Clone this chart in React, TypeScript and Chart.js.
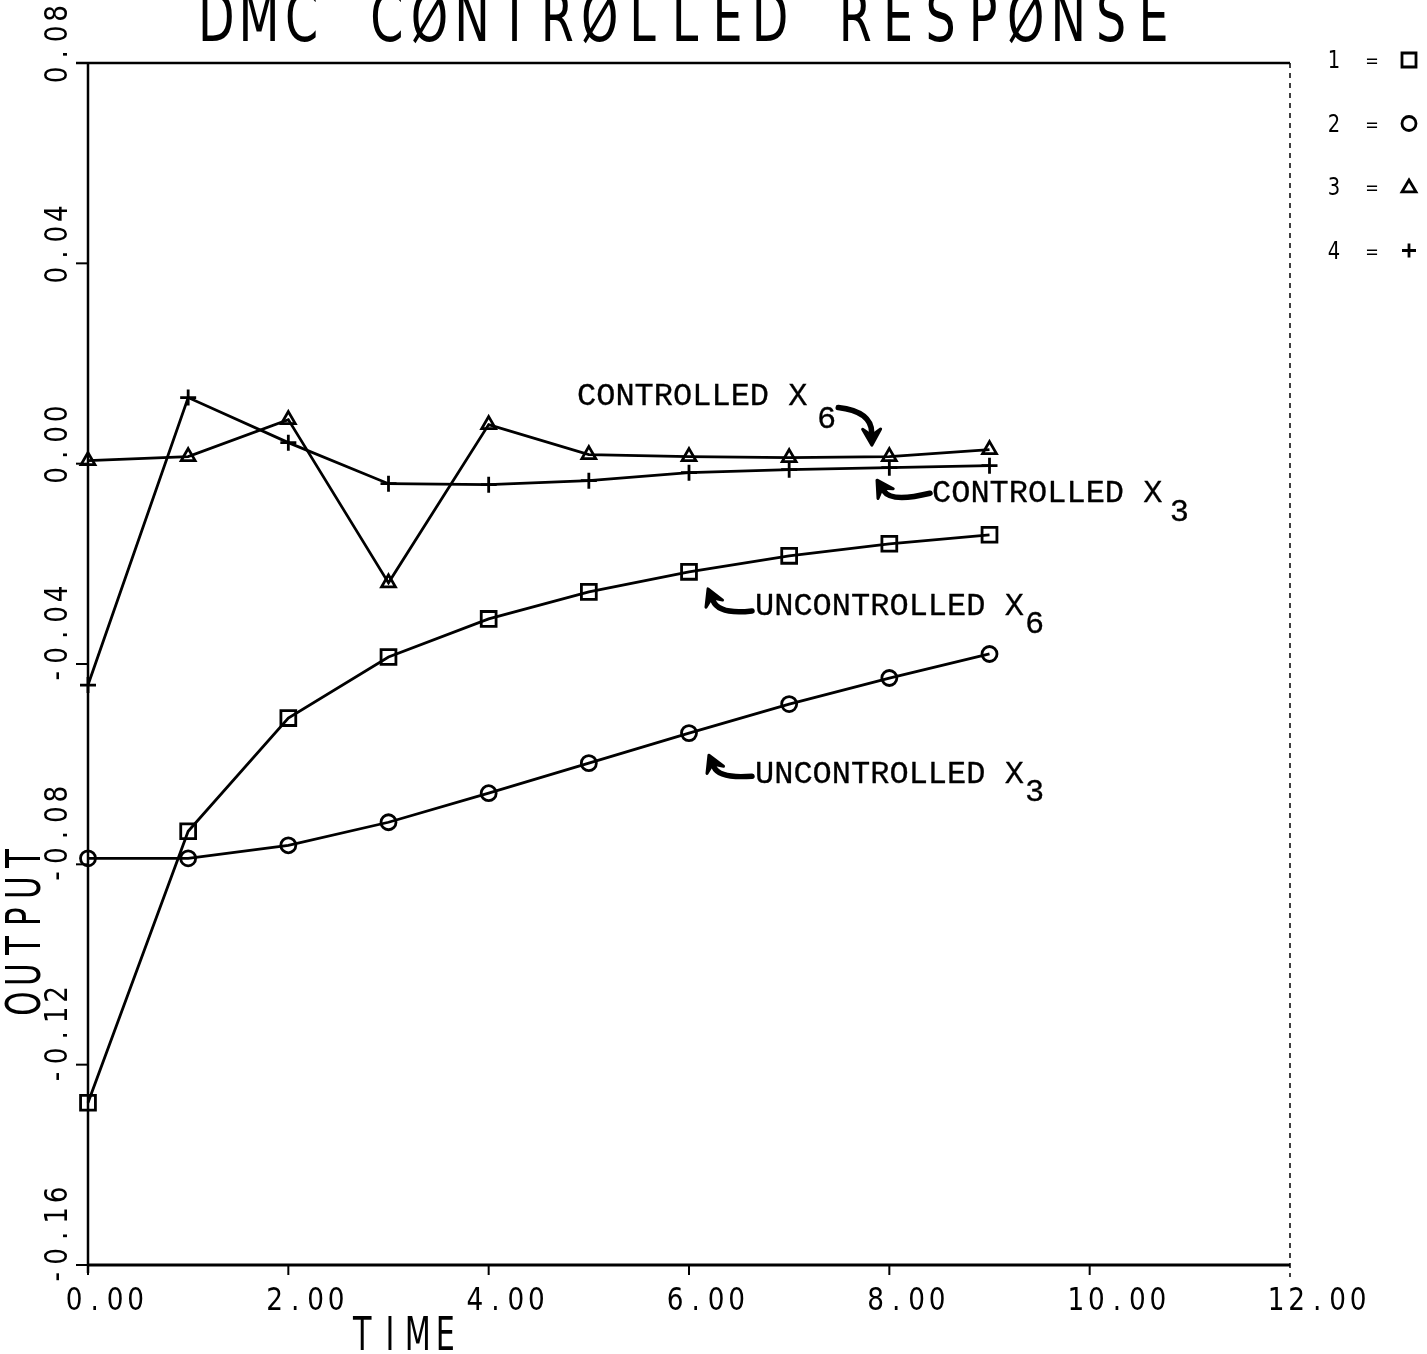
import React, { useEffect, useRef } from "react";
import { Chart, registerables } from "chart.js";

Chart.register(...registerables);

// Sample instants (time axis)
const timeSteps = [0, 1, 2, 3, 4, 5, 6, 7, 8, 9];

// 1 = square : uncontrolled X6
const uncontrolledX6 = [-0.1276, -0.0734, -0.0508, -0.0386, -0.031, -0.0256, -0.0216, -0.0184, -0.016, -0.0142];
// 2 = circle : uncontrolled X3
const uncontrolledX3 = [-0.0788, -0.0788, -0.0762, -0.0716, -0.0658, -0.0598, -0.0538, -0.048, -0.0428, -0.038];
// 3 = triangle : controlled X6
const controlledX6 = [0.0006, 0.0014, 0.0088, -0.0238, 0.0078, 0.0018, 0.0014, 0.0012, 0.0014, 0.0028];
// 4 = plus : controlled X3
const controlledX3 = [-0.0442, 0.0132, 0.0042, -0.004, -0.0042, -0.0034, -0.0018, -0.0012, -0.0008, -0.0004];

const xTickValues = [0, 2, 4, 6, 8, 10, 12];
const xTickLabels = ["0.00", "2.00", "4.00", "6.00", "8.00", "10.00", "12.00"];
const yTickValues = [0.08, 0.04, 0, -0.04, -0.08, -0.12, -0.16];
const yTickLabels = ["0.08", "0.04", "0.00", "-0.04", "-0.08", "-0.12", "-0.16"];

const legendKeys = ["1", "2", "3", "4"];
const legendSymbols = ["rect", "circle", "triangle", "cross"];

const titleText = "DMC CØNTRØLLED RESPØNSE";
const xAxisTitle = "TIME";
const yAxisTitle = "OUTPUT";

// Hand-written notes: text, subscript and arrow (tail, bend, tip), in data units
const notes = [
  { text: "CONTROLLED X", sub: "6", at: [4.882, 0.0117], subAt: [7.278, 0.0072],
    arrow: [[7.49, 0.0112], [7.82, 0.0104], [7.826, 0.0037]] },
  { text: "CONTROLLED X", sub: "3", at: [8.426, -0.0077], subAt: [10.8, -0.0114],
    arrow: [[8.406, -0.0059], [8.02, -0.0078], [7.877, -0.0033]] },
  { text: "UNCONTROLLED X", sub: "6", at: [6.659, -0.0302], subAt: [9.354, -0.0338],
    arrow: [[6.629, -0.0294], [6.30, -0.0302], [6.19, -0.025]] },
  { text: "UNCONTROLLED X", sub: "3", at: [6.659, -0.0637], subAt: [9.354, -0.0673],
    arrow: [[6.629, -0.0624], [6.30, -0.0629], [6.199, -0.0582]] },
];

const PLOT_FONT = "'DejaVu Sans', sans-serif";
const NOTE_FONT = "'Liberation Mono', 'Courier New', monospace";

function plotterText(
  ctx: CanvasRenderingContext2D, text: string, x0: number, y0: number,
  advance: number, size: number, sx: number, sy: number
) {
  ctx.font = `${size}px ${PLOT_FONT}`;
  ctx.textAlign = "center";
  ctx.textBaseline = "alphabetic";
  for (let i = 0; i < text.length; i++) {
    const ch = text[i];
    if (ch === " ") continue;
    ctx.save();
    ctx.translate(x0 + advance * (i + 0.5), y0);
    ctx.scale(sx, sy);
    ctx.fillText(ch, 0, 0);
    ctx.restore();
  }
}

function drawSymbol(ctx: CanvasRenderingContext2D, kind: string, x: number, y: number, r: number) {
  ctx.beginPath();
  if (kind === "rect") {
    ctx.rect(x - r, y - r, 2 * r, 2 * r);
  } else if (kind === "circle") {
    ctx.arc(x, y, r, 0, Math.PI * 2);
  } else if (kind === "triangle") {
    ctx.moveTo(x, y - r);
    ctx.lineTo(x + r, y + r * 0.7);
    ctx.lineTo(x - r, y + r * 0.7);
    ctx.closePath();
  } else {
    ctx.moveTo(x - r, y);
    ctx.lineTo(x + r, y);
    ctx.moveTo(x, y - r);
    ctx.lineTo(x, y + r);
  }
  ctx.stroke();
}

const framePlugin = {
  id: "plotterFrame",
  beforeDraw(chart: any) {
    const ctx = chart.ctx as CanvasRenderingContext2D;
    ctx.save();
    ctx.fillStyle = "#fff";
    ctx.fillRect(0, 0, chart.width, chart.height);
    ctx.restore();
  },
  afterDraw(chart: any) {
    const ctx = chart.ctx as CanvasRenderingContext2D;
    const xs = chart.scales.x;
    const ys = chart.scales.y;
    const { left, right, top, bottom } = chart.chartArea;
    const P = (xv: number, yv: number) => [xs.getPixelForValue(xv), ys.getPixelForValue(yv)];

    ctx.save();
    ctx.strokeStyle = "#000";
    ctx.fillStyle = "#000";
    ctx.lineCap = "butt";

    // frame
    ctx.lineWidth = 2.5;
    ctx.beginPath();
    ctx.moveTo(left, top);
    ctx.lineTo(left, bottom + 8);
    ctx.stroke();
    ctx.lineWidth = 3;
    ctx.beginPath();
    ctx.moveTo(left, bottom);
    ctx.lineTo(right, bottom);
    ctx.stroke();
    ctx.lineWidth = 2.5;
    ctx.beginPath();
    ctx.moveTo(left - 12, top);
    ctx.lineTo(right, top);
    ctx.stroke();
    ctx.save();
    ctx.lineWidth = 1.5;
    ctx.setLineDash([5, 5]);
    ctx.beginPath();
    ctx.moveTo(right, top);
    ctx.lineTo(right, bottom + 12);
    ctx.stroke();
    ctx.restore();

    // y ticks and rotated labels
    ctx.lineWidth = 2;
    yTickValues.forEach((v, i) => {
      const y = ys.getPixelForValue(v);
      ctx.beginPath();
      ctx.moveTo(left - 12, y);
      ctx.lineTo(left, y);
      ctx.stroke();
      ctx.save();
      ctx.translate(left - 21, y + 22);
      ctx.rotate(-Math.PI / 2);
      plotterText(ctx, yTickLabels[i], 0, 0, 20.5, 31, 0.85, 1.05);
      ctx.restore();
    });

    // x ticks and labels
    xTickValues.forEach((v, i) => {
      const x = xs.getPixelForValue(v);
      if (i < xTickValues.length - 1) {
        ctx.beginPath();
        ctx.moveTo(x, bottom);
        ctx.lineTo(x, bottom + 10);
        ctx.stroke();
      }
      plotterText(ctx, xTickLabels[i], x - 24, bottom + 45, 20.5, 31, 0.85, 1.05);
    });

    // axis titles
    const [tx] = P(2.6, 0);
    plotterText(ctx, xAxisTitle, tx, bottom + 85, 27.7, 42, 0.72, 1.1);
    ctx.save();
    ctx.translate(40, ys.getPixelForValue(-0.1107));
    ctx.rotate(-Math.PI / 2);
    plotterText(ctx, yAxisTitle, 0, 0, 29, 43, 0.72, 1.1);
    ctx.restore();

    // title
    const titleAdv = 42.6;
    const cx = (left + right) / 2 - 4;
    plotterText(ctx, titleText, cx - (titleText.length * titleAdv) / 2, 41, titleAdv, 56, 0.85, 1.2);

    // symbol key
    legendKeys.forEach((k, i) => {
      const y = top - 3 + i * 63.5;
      plotterText(ctx, k, 1323, y + 8, 22, 23, 0.85, 1.05);
      plotterText(ctx, "=", 1361, y + 7, 22, 19, 0.85, 1.0);
      ctx.lineWidth = 2.8;
      drawSymbol(ctx, legendSymbols[i], 1409, y, 7);
    });

    // notes with arrows
    notes.forEach((n) => {
      ctx.font = `32px ${NOTE_FONT}`;
      ctx.textAlign = "left";
      ctx.textBaseline = "alphabetic";
      ctx.lineWidth = 0.3;
      const [ax, ay] = P(n.at[0], n.at[1]);
      ctx.fillText(n.text, ax, ay);
      ctx.strokeText(n.text, ax, ay);
      const [sx, sy] = P(n.subAt[0], n.subAt[1]);
      ctx.fillText(n.sub, sx, sy);
      ctx.strokeText(n.sub, sx, sy);

      const [t0, t1] = P(n.arrow[0][0], n.arrow[0][1]);
      const [c0, c1] = P(n.arrow[1][0], n.arrow[1][1]);
      const [p0, p1] = P(n.arrow[2][0], n.arrow[2][1]);
      let dx = p0 - c0;
      let dy = p1 - c1;
      const len = Math.hypot(dx, dy) || 1;
      dx /= len;
      dy /= len;
      const nx = -dy;
      const ny = dx;
      const headL = 16;
      const bx = p0 - dx * headL * 0.8;
      const by = p1 - dy * headL * 0.8;
      ctx.lineWidth = 5.5;
      ctx.lineCap = "round";
      ctx.lineJoin = "round";
      ctx.beginPath();
      ctx.moveTo(t0, t1);
      ctx.quadraticCurveTo(c0, c1, bx, by);
      ctx.stroke();
      ctx.lineWidth = 3;
      ctx.beginPath();
      ctx.moveTo(p0, p1);
      ctx.lineTo(p0 - dx * headL + nx * 9, p1 - dy * headL + ny * 9);
      ctx.lineTo(p0 - dx * headL * 0.6, p1 - dy * headL * 0.6);
      ctx.lineTo(p0 - dx * headL - nx * 9, p1 - dy * headL - ny * 9);
      ctx.closePath();
      ctx.fill();
      ctx.stroke();
    });

    ctx.restore();
  },
};

function series(values: number[], style: string, radius: number) {
  return {
    data: timeSteps.map((t, i) => ({ x: t, y: values[i] })),
    showLine: true,
    borderColor: "#000",
    borderWidth: 2.8,
    pointStyle: style,
    pointRadius: radius,
    pointBorderWidth: 2.8,
    pointBorderColor: "#000",
    pointBackgroundColor: "rgba(0,0,0,0)",
    tension: 0,
    clip: false,
  };
}

export default function App() {
  const canvasRef = useRef<HTMLCanvasElement | null>(null);

  useEffect(() => {
    const canvas = canvasRef.current;
    if (!canvas) return;
    const chart = new Chart(canvas, {
      type: "scatter",
      data: {
        datasets: [
          series(uncontrolledX6, "rect", 10.5),
          series(uncontrolledX3, "circle", 7.5),
          series(controlledX6, "triangle", 8),
          series(controlledX3, "cross", 8),
        ] as any,
      },
      options: {
        animation: false,
        responsive: false,
        devicePixelRatio: 1,
        layout: { padding: { left: 88, top: 63, right: 137, bottom: 89 } },
        plugins: {
          legend: { display: false },
          tooltip: { enabled: false },
          title: { display: false },
        },
        scales: {
          x: { type: "linear", min: 0, max: 12, display: false },
          y: { type: "linear", min: -0.16, max: 0.08, display: false },
        },
      },
      plugins: [framePlugin],
    });
    return () => chart.destroy();
  }, []);

  return (
    <div style={{ position: "fixed", left: 0, top: 0, width: 1427, height: 1354, background: "#fff" }}>
      <canvas ref={canvasRef} width={1427} height={1354} style={{ display: "block", width: 1427, height: 1354 }} />
    </div>
  );
}
